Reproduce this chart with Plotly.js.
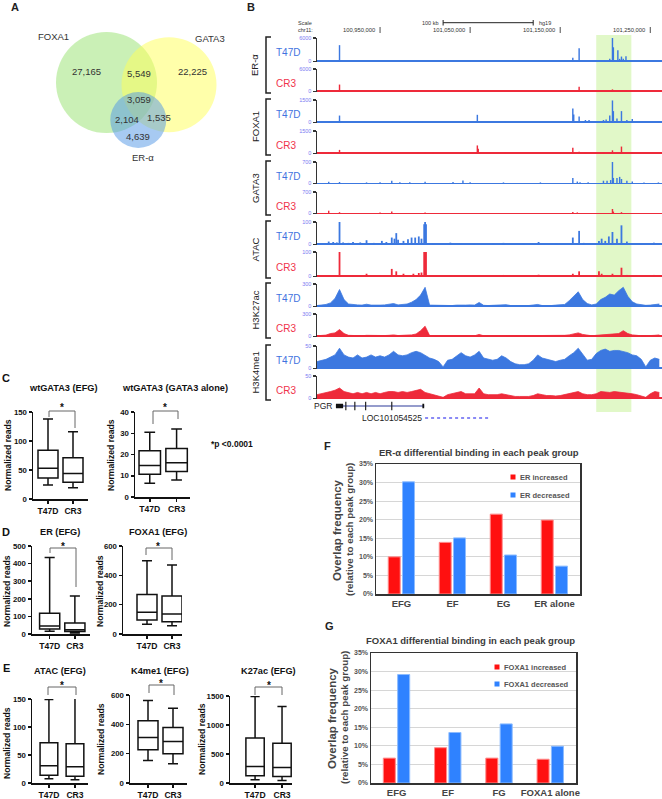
<!DOCTYPE html>
<html><head><meta charset="utf-8">
<script src="https://cdn.plot.ly/plotly-3.0.1.min.js"></script>
<style>html,body{margin:0;padding:0;background:#fff}#chart{width:662px;height:799px}</style>
</head><body><div id="chart"></div>
<script>
// ================= DATA =================
// A: Venn
const vennSets = ['FOXA1', 'GATA3', 'ER-α'];
const vennRegions = ['FOXA1 only', 'FOXA1+GATA3', 'GATA3 only', 'all three', 'FOXA1+ER', 'GATA3+ER', 'ER only'];
const vennCounts = [27165, 5549, 22225, 3059, 2104, 1535, 4639];

// B: genome browser (positions in kb on chr11, hg19)
const genomeRangeKb = [100880, 101263];
const coordTicksKb = [100950, 101050, 101150, 101250];
const scaleBarKb = [101020, 101120];
const highlightKb = [101190, 101229];
const trackNames = ['ER-α', 'FOXA1', 'GATA3', 'ATAC', 'H3K27ac', 'H3K4me1'];
const cellLines = ['T47D', 'CR3'];
const trackMax = [6000, 1500, 700, 100, 300, 50];

const erT47D_pos = [100905, 101050, 101164, 101171, 101200, 101205, 101208, 101209, 101214, 101216, 101218, 101220, 101223, 101228];
const erT47D_val = [4150, 180, 900, 3350, 300, 600, 6000, 3600, 2800, 600, 1200, 600, 1300, 300];
const erCR3_pos = [100905, 101171, 101208, 101223];
const erCR3_val = [1800, 1200, 500, 250];

const foxa1T47D_pos = [100893, 100905, 100933, 100963, 100992, 100996, 101049, 101058, 101089, 101164, 101165, 101171, 101178, 101182, 101198, 101201, 101205, 101208, 101209, 101213, 101218, 101224, 101230, 101259];
const foxa1T47D_val = [75, 450, 60, 45, 75, 60, 75, 500, 75, 930, 525, 390, 150, 150, 150, 180, 450, 1470, 750, 255, 750, 150, 225, 45];
const foxa1CR3_pos = [100893, 100905, 100992, 101000, 101009, 101049, 101058, 101059, 101089, 101164, 101171, 101178, 101198, 101208, 101218, 101230];
const foxa1CR3_val = [45, 225, 60, 60, 45, 75, 525, 300, 60, 375, 105, 60, 75, 195, 450, 75];

const gata3T47D_pos = [100893, 100905, 100935, 100950, 100963, 100972, 100983, 101000, 101031, 101042, 101050, 101087, 101128, 101164, 101169, 101172, 101181, 101198, 101202, 101206, 101208, 101209, 101213, 101216, 101218, 101224, 101230, 101243, 101259];
const gata3T47D_val = [49, 42, 28, 35, 84, 35, 35, 49, 42, 91, 35, 28, 28, 175, 56, 35, 35, 84, 84, 105, 700, 175, 175, 210, 140, 84, 56, 21, 28];
const gata3CR3_pos = [100893, 100905, 100950, 100963, 101000, 101164, 101169, 101208, 101209, 101218];
const gata3CR3_val = [84, 35, 21, 56, 28, 42, 28, 140, 56, 35];

const atacT47D_pos = [100883, 100893, 100898, 100902, 100905, 100909, 100915, 100920, 100928, 100935, 100943, 100952, 100957, 100963, 100966, 100968, 100970, 100976, 100981, 100985, 100989, 100993, 100996, 100999, 101000, 101001, 101009, 101028, 101039, 101054, 101076, 101087, 101109, 101126, 101146, 101164, 101171, 101176, 101193, 101196, 101200, 101204, 101208, 101213, 101218, 101224, 101239, 101254];
const atacT47D_val = [5, 12, 10, 8, 100, 8, 6, 10, 8, 18, 6, 15, 10, 30, 25, 50, 20, 15, 22, 30, 30, 35, 25, 90, 100, 90, 5, 7, 4, 4, 3, 6, 3, 10, 3, 30, 60, 6, 15, 25, 15, 35, 55, 25, 85, 12, 5, 7];
const atacCR3_pos = [100893, 100905, 100920, 100935, 100950, 100963, 100968, 100976, 100987, 100993, 100996, 100999, 101000, 101001, 101028, 101054, 101087, 101126, 101164, 101171, 101193, 101196, 101208, 101218, 101224, 101254];
const atacCR3_val = [4, 100, 4, 10, 4, 30, 20, 10, 10, 13, 15, 100, 100, 100, 4, 4, 5, 6, 10, 20, 20, 10, 10, 35, 5, 5];

// dense tracks: bins of 5 kb starting at 100,880 kb
const denseStartKb = 100880, denseStepKb = 5;
const h3k27acT47D = [9,12,24,45,105,225,90,30,21,18, 15,27,15,12,15,18,24,36,18,21, 30,54,90,150,255,15,12,9,9,12, 9,15,12,15,18,15,51,12,9,12, 9,15,21,9,6,9,6,9,12,24, 9,6,9,15,18,24,75,135,195,90, 36,18,30,90,120,165,150,210,255,135, 60,30,18,12,15,24,30];
const h3k27acCR3 = [6,9,15,36,45,90,36,12,9,9, 6,12,9,6,9,9,12,18,9,9, 12,18,30,75,135,9,6,6,9,6, 9,6,9,6,9,6,24,6,6,9, 6,9,6,6,9,6,6,6,6,12, 6,6,6,6,9,12,18,30,45,24, 12,6,12,18,15,24,30,36,75,36, 18,9,6,6,6,12,18];
const h3k4me1T47D = [15,18,20,25,30,45,30,25,23,30, 23,25,30,25,28,25,30,38,30,28, 30,35,38,35,28,23,20,15,3,18, 20,28,35,28,25,30,38,23,20,18, 20,28,23,15,10,8,8,10,18,30, 23,20,18,15,18,20,28,35,45,30, 18,20,33,40,43,38,40,40,38,35, 30,28,20,3,18,23,20];
const h3k4me1CR3 = [8,10,13,15,18,23,15,13,10,13, 10,13,10,13,10,13,15,15,13,15, 13,15,18,20,13,10,8,5,2,8, 10,13,15,10,10,10,23,10,8,8, 8,10,8,5,4,4,4,4,6,10, 8,6,6,5,6,8,10,13,15,10, 8,8,10,15,14,13,15,14,13,11, 10,8,5,2,10,15,13];

const geneNames = ['PGR', 'LOC101054525'];
const pgrSpanKb = [100901, 100999];
const pgrBlocksKb = [[100901, 100909], [100997, 100999]];
const pgrExonKb = [100912, 100922, 100934, 100963];
const locSpanKb = [101000, 101070];

// C-E: box plots (lower whisker, Q1, median, Q3, upper whisker)
const boxGroups = ['T47D', 'CR3'];
const wtGataEfg = {low: [24, 19.5], q1: [36, 29], med: [53, 44], q3: [84, 71], high: [138, 116]};
const wtGataAlone = {low: [6.5, 8], q1: [10.7, 12], med: [14.8, 16.1], q3: [21.8, 22.8], high: [30.5, 32]};
const erEfg = {low: [15, 6], q1: [28, 14], med: [45, 24], q3: [118, 62], high: [435, 216]};
const foxa1Efg = {low: [66, 57], q1: [95, 84], med: [148, 136], q3: [270, 259], high: [500, 470]};
const atacEfg = {low: [7.5, 6], q1: [14, 12], med: [31, 29], q3: [72, 70], high: [149, 155]};
const k4me1Efg = {low: [154, 131], q1: [226, 199], med: [310, 283], q3: [424, 378], high: [562, 510]};
const k27acEfg = {low: [57, 45], q1: [125, 114], med: [285, 267], q3: [776, 685], high: [1490, 1320]};

// F, G: bar charts (%)
const fCats = ['EFG', 'EF', 'EG', 'ER alone'];
const fIncreased = [10, 13.9, 21.5, 19.9];
const fDecreased = [30.2, 15.1, 10.5, 7.5];
const gCats = ['EFG', 'EF', 'FG', 'FOXA1 alone'];
const gIncreased = [6.7, 9.5, 6.7, 6.4];
const gDecreased = [29.2, 13.6, 15.9, 9.9];

// ================= LAYOUT HELPERS =================
const W = 662, H = 799;
const X = p => p / W, Y = p => 1 - p / H;
const xd = (a, b) => [a / W, b / W];
const yd = (top, bottom) => [1 - bottom / H, 1 - top / H];
const FONT = 'Arial, "Liberation Sans", Helvetica, sans-serif';
const BLUE = '#3c78e0', RED = '#ee2a3a';
const BLUE_LBL = '#3f73e0', RED_LBL = '#f0334a';

const data = [];
const layout = {
  width: W, height: H, margin: {l: 0, r: 0, t: 0, b: 0},
  paper_bgcolor: '#ffffff', plot_bgcolor: 'rgba(0,0,0,0)',
  showlegend: false, barmode: 'overlay', hovermode: false,
  font: {family: FONT}, shapes: [], annotations: []
};
function ann(text, x, y, size, o) {
  const a = Object.assign({text, x: X(x), y: Y(y), xref: 'paper', yref: 'paper', showarrow: false,
    xanchor: 'center', yanchor: 'middle', borderpad: 0,
    font: {family: FONT, size: size, color: '#222'}}, o || {});
  layout.annotations.push(a);
}
function bold(size, color) { return {family: FONT, size: size, color: color || '#111', weight: 700}; }
function ppath(pts, color, width) {
  const d = pts.map((p, i) => (i ? 'L' : 'M') + X(p[0]) + ',' + Y(p[1])).join(' ');
  layout.shapes.push({type: 'path', xref: 'paper', yref: 'paper', path: d, line: {color: color, width: width}});
}

// ================= A: VENN =================
const vennCircles = [
  {cx: 106.5, cy: 82.5, r: 50.5, fill: 'rgba(150,225,110,0.5)'},
  {cx: 169, cy: 84.7, r: 47.5, fill: 'rgba(255,255,85,0.5)'},
  {cx: 138.3, cy: 120, r: 28, fill: 'rgba(80,150,230,0.5)'}
];
vennCircles.forEach(c => layout.shapes.push({type: 'circle', xref: 'paper', yref: 'paper', layer: 'below',
  x0: X(c.cx - c.r), x1: X(c.cx + c.r), y0: Y(c.cy + c.r), y1: Y(c.cy - c.r),
  fillcolor: c.fill, line: {width: 0}}));
const vennSetPos = [[53, 36], [210, 38], [143, 157]];
vennSets.forEach((s, i) => ann(s, vennSetPos[i][0], vennSetPos[i][1], 9.5, {font: {family: FONT, size: 9.5, color: '#333'}}));
const vennNumPos = [[87, 71], [139, 73], [192, 71], [139, 100], [127, 119], [159, 117], [138, 136]];
vennCounts.forEach((v, i) => ann(v.toLocaleString('en-US'), vennNumPos[i][0], vennNumPos[i][1], 9.5, {font: {family: FONT, size: 9.5, color: '#333'}}));
ann('A', 15, 7, 11, {font: bold(11, '#222')});

// ================= B: GENOME BROWSER =================
ann('B', 251, 7, 11, {font: bold(11, '#222')});
layout.xaxis = {domain: xd(317, 662), range: genomeRangeKb, visible: false, anchor: 'y', fixedrange: true};
const trackRows = [[38, 62], [69, 92], [100, 123], [131, 154], [162, 184], [192, 214], [222, 245], [252, 277], [284, 307], [314, 337], [346, 369], [376, 399]];
const sparseTracks = [
  [erT47D_pos, erT47D_val], [erCR3_pos, erCR3_val],
  [foxa1T47D_pos, foxa1T47D_val], [foxa1CR3_pos, foxa1CR3_val],
  [gata3T47D_pos, gata3T47D_val], [gata3CR3_pos, gata3CR3_val],
  [atacT47D_pos, atacT47D_val], [atacCR3_pos, atacCR3_val]
];
const denseTracks = [h3k27acT47D, h3k27acCR3, h3k4me1T47D, h3k4me1CR3];

for (let i = 0; i < 12; i++) {
  const g = Math.floor(i / 2), cell = i % 2, max = trackMax[g];
  const color = cell === 0 ? BLUE : RED;
  const yname = i === 0 ? 'yaxis' : 'yaxis' + (i + 1);
  const yref = i === 0 ? 'y' : 'y' + (i + 1);
  layout[yname] = {
    domain: yd(trackRows[i][0], trackRows[i][1]), anchor: 'x', range: [-max * 0.035, max],
    tickvals: [0, max], ticktext: ['0', String(max)], ticks: 'outside', ticklen: 3, tickwidth: 1.2, tickcolor: '#333',
    tickfont: {family: FONT, size: 5.5, color: '#7c7cf2'}, showline: true, linecolor: '#333', linewidth: 1.5,
    showgrid: false, zeroline: true, zerolinecolor: color, zerolinewidth: 1.5, fixedrange: true
  };
  if (i < 8) {
    const t = sparseTracks[i];
    data.push({type: 'bar', x: t[0], y: t[1], xaxis: 'x', yaxis: yref, width: g === 3 ? 2.0 : 1.6,
      marker: {color: color, line: {width: 0}}, showlegend: false, hoverinfo: 'skip'});
  } else {
    const vals = denseTracks[i - 8];
    const xs = vals.map((v, k) => denseStartKb + k * denseStepKb);
    data.push({type: 'scatter', mode: 'lines', x: xs, y: vals, xaxis: 'x', yaxis: yref,
      line: {color: color, width: 0.8}, fill: 'tozeroy', fillcolor: color,
      showlegend: false, hoverinfo: 'skip'});
  }
  ann(cellLines[cell], 275, (trackRows[i][0] + trackRows[i][1]) / 2 + 3, 10,
    {xanchor: 'left', font: {family: FONT, size: 10, color: cell === 0 ? BLUE_LBL : RED_LBL}});
}
for (let g = 0; g < 6; g++) {
  const top = trackRows[2 * g][0], bot = trackRows[2 * g + 1][1];
  ppath([[271, top - 1], [266, top - 1], [266, bot + 1], [271, bot + 1]], '#222', 1.5);
  ann(trackNames[g], 255, (top + bot) / 2, 9.5, {textangle: -90, font: {family: FONT, size: 9.5, color: '#222'}});
}
layout.shapes.push({type: 'rect', xref: 'x', yref: 'paper', layer: 'below', x0: highlightKb[0], x1: highlightKb[1],
  y0: Y(412), y1: Y(35), fillcolor: '#e1f8c8', line: {width: 0}});
ann('Scale', 305, 23, 5.5, {font: {family: FONT, size: 5.5, color: '#333'}});
ann('chr11:', 305, 30, 5.5, {font: {family: FONT, size: 5.5, color: '#333'}});
ann('100 kb', 430, 23, 5.5, {font: {family: FONT, size: 5.5, color: '#333'}});
ann('hg19', 545, 23, 5.5, {font: {family: FONT, size: 5.5, color: '#333'}});
layout.shapes.push({type: 'line', xref: 'x', yref: 'paper', x0: scaleBarKb[0], x1: scaleBarKb[1], y0: Y(22.7), y1: Y(22.7), line: {color: '#222', width: 1}});
scaleBarKb.forEach(k => layout.shapes.push({type: 'line', xref: 'x', yref: 'paper', x0: k, x1: k, y0: Y(20), y1: Y(25.5), line: {color: '#222', width: 1}}));
coordTicksKb.forEach(k => {
  layout.shapes.push({type: 'line', xref: 'x', yref: 'paper', x0: k, x1: k, y0: Y(33), y1: Y(27), line: {color: '#222', width: 0.8}});
  layout.annotations.push({text: k.toLocaleString('en-US') + ',000', xref: 'x', yref: 'paper', x: k, y: Y(30), xshift: -4,
    xanchor: 'right', yanchor: 'middle', showarrow: false, borderpad: 0, font: {family: FONT, size: 5.8, color: '#333'}});
});
layout.yaxis13 = {domain: yd(400, 424), range: [0, 2], visible: false, anchor: 'x', fixedrange: true};
data.push({type: 'scatter', mode: 'lines', x: pgrSpanKb, y: [1.5, 1.5], xaxis: 'x', yaxis: 'y13', line: {color: '#2d3a9a', width: 1.2}, showlegend: false, hoverinfo: 'skip'});
pgrBlocksKb.forEach(b => data.push({type: 'scatter', mode: 'lines', x: b, y: [1.5, 1.5], xaxis: 'x', yaxis: 'y13', line: {color: '#111', width: 4.5}, showlegend: false, hoverinfo: 'skip'}));
data.push({type: 'scatter', mode: 'markers', x: pgrExonKb, y: pgrExonKb.map(() => 1.5), xaxis: 'x', yaxis: 'y13',
  marker: {symbol: 'line-ns', size: 6, line: {color: '#222', width: 1.2}}, showlegend: false, hoverinfo: 'skip'});
data.push({type: 'scatter', mode: 'lines', x: locSpanKb, y: [0.5, 0.5], xaxis: 'x', yaxis: 'y13', line: {color: '#8a8af5', width: 2, dash: 'dot'}, showlegend: false, hoverinfo: 'skip'});
layout.annotations.push({text: geneNames[0], xref: 'x', yref: 'y13', x: pgrSpanKb[0], y: 1.5, xshift: -3, xanchor: 'right', yanchor: 'middle', showarrow: false, borderpad: 0, font: {family: FONT, size: 8.5, color: '#222'}});
layout.annotations.push({text: geneNames[1], xref: 'x', yref: 'y13', x: locSpanKb[0], y: 0.5, xshift: -2, xanchor: 'right', yanchor: 'middle', showarrow: false, borderpad: 0, font: {family: FONT, size: 8.5, color: '#222'}});

// ================= C-E: BOX PLOTS =================
function addBox(n, dom, xr, yr, ticks, width, d, title, titlePos, ytitlePos) {
  const yn = n + 12;
  layout['xaxis' + n] = {domain: xd(dom[0], dom[1]), anchor: 'y' + yn, type: 'category', categoryarray: boxGroups, range: xr,
    showline: true, linecolor: '#111', linewidth: 1.5, ticks: 'outside', ticklen: 3, tickwidth: 1.5, tickcolor: '#111',
    tickfont: bold(8.6), showgrid: false, zeroline: false, fixedrange: true};
  layout['yaxis' + yn] = {domain: yd(dom[2], dom[3]), anchor: 'x' + n, range: yr, tickvals: ticks,
    showline: true, linecolor: '#111', linewidth: 1.5, ticks: 'outside', ticklen: 3, tickwidth: 1.5, tickcolor: '#111',
    tickfont: bold(7.8), showgrid: false, zeroline: false, fixedrange: true};
  data.push({type: 'box', x: boxGroups, q1: d.q1, median: d.med, q3: d.q3, lowerfence: d.low, upperfence: d.high,
    xaxis: 'x' + n, yaxis: 'y' + yn, boxpoints: false, line: {color: '#111', width: 1.5}, fillcolor: '#ffffff',
    whiskerwidth: 0.5, width: width, showlegend: false, hoverinfo: 'skip'});
  ann(title, titlePos[0], titlePos[1], 9.2, {font: bold(9.2)});
  ann('Normalized reads', ytitlePos[0], ytitlePos[1], 8.6, {textangle: -90, font: bold(8.6)});
}
addBox(2, [33, 88, 412, 499], [-0.6, 1.6], [0, 150], [0, 50, 100, 150], 0.8, wtGataEfg, 'wtGATA3 (EFG)', [63, 388], [8, 455]);
addBox(3, [135, 190, 412, 497], [-0.55, 1.5], [0, 40], [0, 10, 20, 30, 40], 0.8, wtGataAlone, 'wtGATA3 (GATA3 alone)', [175, 388], [111, 455]);
addBox(4, [32, 90, 546, 634], [-0.7, 1.6], [0, 500], [0, 100, 200, 300, 400, 500], 0.8, erEfg, 'ER (EFG)', [60, 532], [7, 591]);
addBox(5, [123, 182, 546, 634], [-0.96, 1.4], [0, 600], [0, 200, 400, 600], 0.8, foxa1Efg, 'FOXA1 (EFG)', [158, 532], [100, 591]);
addBox(6, [32, 88, 699, 783], [-0.65, 1.5], [0, 150], [0, 50, 100, 150], 0.68, atacEfg, 'ATAC (EFG)', [60, 671], [7, 743]);
addBox(7, [130, 187, 695, 783], [-0.72, 1.56], [0, 600], [0, 200, 400, 600], 0.8, k4me1Efg, 'K4me1 (EFG)', [160, 671], [101, 739]);
addBox(8, [230, 292, 696, 783], [-0.93, 1.37], [0, 1500], [0, 500, 1000, 1500], 0.68, k27acEfg, 'K27ac (EFG)', [268, 671], [202, 739]);

const brackets = [
  {x1: 49, x2: 75, top: 411, l: 417, r: 428, star: [62, 404]},
  {x1: 153, x2: 178, top: 411, l: 424, r: 419, star: [165, 404]},
  {x1: 50, x2: 76, top: 548, l: 553, r: 587, star: [63, 542]},
  {x1: 146, x2: 172, top: 548, l: 555, r: 560, star: [158, 542]},
  {x1: 48, x2: 76, top: 687, l: 695, r: 695, star: [62, 681]},
  {x1: 149, x2: 174, top: 685, l: 693, r: 695, star: [161, 679]},
  {x1: 255, x2: 282, top: 687, l: 695, r: 695, star: [269, 681]}
];
brackets.forEach(b => {
  ppath([[b.x1, b.l], [b.x1, b.top], [b.x2, b.top], [b.x2, b.r]], '#666', 1);
  ann('*', b.star[0], b.star[1] + 4, 10, {font: bold(10)});
});
ann('C', 6, 378, 11, {font: bold(11)});
ann('D', 6, 532, 11, {font: bold(11)});
ann('E', 6, 668, 11, {font: bold(11)});
ann('*p <0.0001', 210, 444, 8.5, {xanchor: 'left', font: bold(8.5)});

// ================= F, G: BAR CHARTS =================
function addBars(n, yn, dom, cats, inc, dec, incName, decName, title, titlePos, letterPos, ytPos, legPos) {
  layout['xaxis' + n] = {domain: xd(dom[0], dom[1]), anchor: 'y' + yn, type: 'category', categoryarray: cats, range: [-0.5, 3.5],
    showline: true, mirror: true, linecolor: '#333', linewidth: 1.5, ticks: '', tickfont: bold(9.5, '#444'),
    showgrid: false, zeroline: false, fixedrange: true};
  layout['yaxis' + yn] = {domain: yd(dom[2], dom[3]), anchor: 'x' + n, range: [0, 35], dtick: 5, tick0: 0, ticksuffix: '%',
    showline: true, mirror: true, linecolor: '#333', linewidth: 1.5, ticks: '', tickfont: bold(7, '#555'),
    showgrid: true, gridcolor: '#d6d6d6', gridwidth: 1, zeroline: false, fixedrange: true};
  data.push({type: 'bar', x: cats, y: inc, name: incName, xaxis: 'x' + n, yaxis: 'y' + yn, width: 0.235, offset: -0.26,
    marker: {color: '#ff1010', line: {color: '#ff8c8c', width: 1}}, showlegend: false, hoverinfo: 'skip'});
  data.push({type: 'bar', x: cats, y: dec, name: decName, xaxis: 'x' + n, yaxis: 'y' + yn, width: 0.235, offset: 0.02,
    marker: {color: '#2f82ff', line: {color: '#8cbcff', width: 1}}, showlegend: false, hoverinfo: 'skip'});
  ann(title, titlePos[0], titlePos[1], 9.5, {font: bold(9.5, '#3b3b3b')});
  ann(letterPos[2], letterPos[0], letterPos[1], 11, {font: bold(11, '#222')});
  ann('Overlap frequency', ytPos[0], ytPos[2], 11.5, {textangle: -90, font: bold(11.5, '#444')});
  ann('(relative to each peak group)', ytPos[1], ytPos[2], 9.8, {textangle: -90, font: bold(9.8, '#444')});
  [[incName, '#ff1010', legPos[1]], [decName, '#2f82ff', legPos[2]]].forEach(L => {
    layout.shapes.push({type: 'rect', xref: 'paper', yref: 'paper', x0: X(legPos[0] - 2.5), x1: X(legPos[0] + 2.5),
      y0: Y(L[2] + 2.5), y1: Y(L[2] - 2.5), fillcolor: L[1], line: {width: 0}});
    ann(L[0], legPos[0] + 6, L[2], 7.5, {xanchor: 'left', font: bold(7.5, '#555')});
  });
}
addBars(9, 21, [376, 580, 464, 594], fCats, fIncreased, fDecreased, 'ER increased', 'ER decreased',
  'ER-α differential binding in each peak group', [479, 452], [327, 446, 'F'], [337, 349, 530], [513, 477, 495]);
addBars(10, 22, [371, 576, 653, 783], gCats, gIncreased, gDecreased, 'FOXA1 increased', 'FOXA1 decreased',
  'FOXA1 differential binding in each peak group', [470, 640], [329, 626, 'G'], [332, 344, 718], [497, 667, 684]);

Plotly.newPlot('chart', data, layout, {staticPlot: true, displayModeBar: false});
</script>
</body></html>
